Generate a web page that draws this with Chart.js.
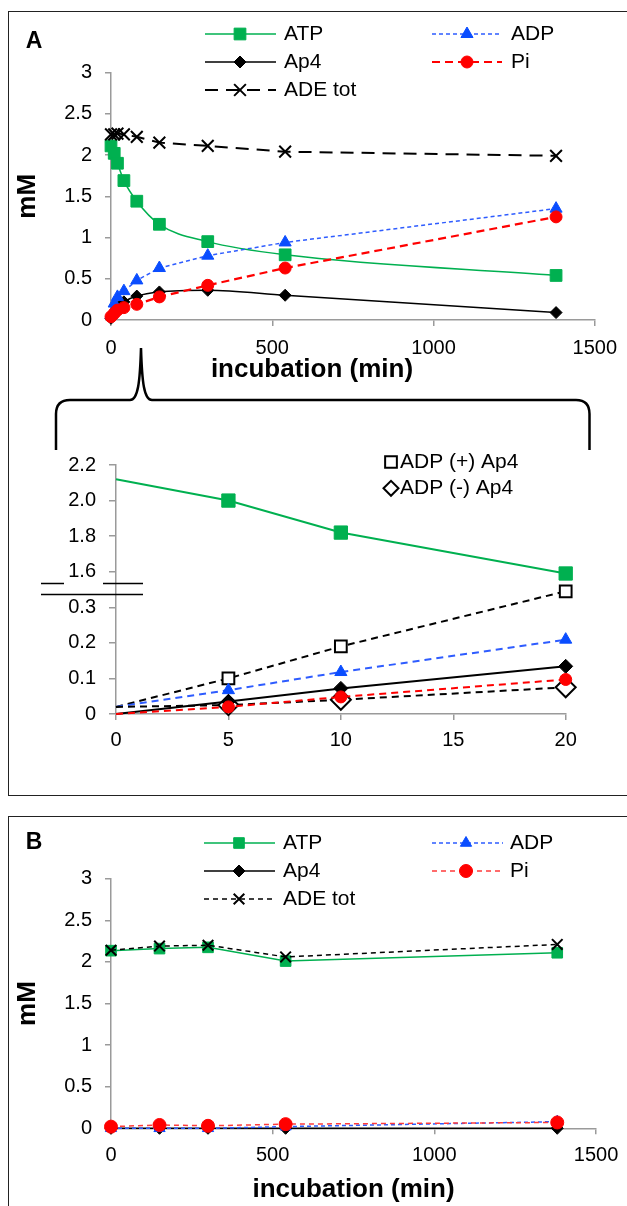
<!DOCTYPE html>
<html>
<head>
<meta charset="utf-8">
<script src="https://cdn.jsdelivr.net/npm/chart.js@4/dist/chart.umd.min.js"></script>
<style>
  html, body { margin: 0; padding: 0; background: #fff; }
  body { width: 627px; height: 1206px; position: relative; overflow: hidden; }
  .frame { position: absolute; box-sizing: border-box; border: 1.5px solid #222; border-right: none; }
  #frameA { left: 8px; top: 11px; width: 640px; height: 785px; }
  #frameB { left: 8px; top: 816px; width: 640px; height: 420px; }
  canvas { position: absolute; left: 0; }
  #chartA { top: 0; }
  #chartInset { top: 440px; }
  #chartB { top: 816px; }
  svg { position: absolute; left: 0; top: 0; }
</style>
</head>
<body>
<div class="frame" id="frameA"></div>
<div class="frame" id="frameB"></div>
<canvas id="chartA" width="627" height="400"></canvas>
<canvas id="chartInset" width="627" height="330"></canvas>
<canvas id="chartB" width="627" height="390"></canvas>
<svg width="627" height="1206">
  <path d="M56,450 L56,414 Q56,400 70,400 L130,400 C138,400 140,382 141,348 C142,382 144,400 152,400 L576,400 Q589.5,400 589.5,414 L589.5,450"
        fill="none" stroke="#000" stroke-width="2.5"/>
</svg>
<script>
const FONT = '"Liberation Sans", Arial, sans-serif';
const GREEN = '#00B050';
const BLUE = '#0A4DFF';
const BLUE_LINE = '#2E5CFF';
const RED = '#FF0000';

// panel A, 0-1500 min
const timesA = [0, 10, 20, 40, 80, 150, 300, 540, 1380];
const atpA = [2.11, 2.02, 1.90, 1.69, 1.44, 1.16, 0.95, 0.79, 0.54];
const adpA = [0.06, 0.20, 0.28, 0.35, 0.48, 0.63, 0.78, 0.94, 1.35];
const ap4A = [0.02, 0.08, 0.15, 0.22, 0.29, 0.34, 0.36, 0.30, 0.09];
const piA = [0.04, 0.08, 0.12, 0.15, 0.19, 0.28, 0.42, 0.63, 1.25];
const adeA = [2.25, 2.25, 2.26, 2.25, 2.22, 2.15, 2.11, 2.04, 1.99];

// panel A inset, 0-20 min
const insetTimes = [0, 5, 10, 20];
const insetAtp = [2.12, 2.00, 1.82, 1.59];
const insetAdpPlus = [0.02, 0.10, 0.19, 0.345];
const insetAdp = [0.02, 0.067, 0.118, 0.209];
const insetAp4 = [0.0, 0.035, 0.072, 0.134];
const insetPi = [0.0, 0.02, 0.048, 0.097];
const insetAdpMinus = [0.02, 0.025, 0.04, 0.075];
const insetTickLabels = ['0', '0.1', '0.2', '0.3', '1.6', '1.8', '2.0', '2.2'];

// panel B
const timesB = [0, 150, 300, 540, 1380];
const atpB = [2.135, 2.16, 2.175, 2.01, 2.11];
const adpB = [0.0, 0.0, 0.0, 0.02, 0.08];
const ap4B = [0.0, 0.0, 0.0, 0.0, 0.0];
const piB = [0.02, 0.04, 0.03, 0.05, 0.07];
const adeB = [2.14, 2.19, 2.20, 2.06, 2.21];

// broken inset axis: 0..0.3 below the break, 1.6..2.2 above it
function brokenY(v) {
    return v >= 1 ? 4 + (v - 1.6) / 0.2 : v / 0.1;
}

function series(label, xs, ys, st) {
    return {
        label: label,
        data: xs.map((x, i) => ({x: x, y: st.map ? st.map(ys[i]) : ys[i]})),
        borderColor: st.line || st.color,
        borderWidth: st.width,
        borderDash: st.dash || [],
        backgroundColor: st.fill || st.color,
        pointStyle: st.style,
        pointRadius: st.r,
        pointBackgroundColor: st.fill || st.color,
        pointBorderColor: st.edge || st.color,
        pointBorderWidth: st.bw || 1,
        tension: st.smooth ? 0.4 : 0,
        cubicInterpolationMode: st.smooth ? 'monotone' : 'default',
        order: st.order,
        clip: false,
        fill: false
    };
}

function tickFont(size) {
    return {family: FONT, size: size};
}

const plainNumber = (v) => String(v);

function legendPlugin(items, panelLabel) {
    return {
        id: 'sketchLegend',
        afterDraw(chart) {
            const ctx = chart.ctx;
            items.forEach((it) => {
                const ds = chart.data.datasets[it.i];
                ctx.save();
                if (it.x1 !== undefined) {
                    ctx.strokeStyle = ds.borderColor;
                    ctx.lineWidth = ds.borderWidth;
                    ctx.setLineDash(ds.borderDash);
                    ctx.beginPath();
                    ctx.moveTo(it.x1, it.y);
                    ctx.lineTo(it.x2, it.y);
                    ctx.stroke();
                }
                ctx.setLineDash([]);
                ctx.fillStyle = ds.pointBackgroundColor;
                ctx.strokeStyle = ds.pointBorderColor;
                ctx.lineWidth = ds.pointBorderWidth;
                let r = it.r;
                if (r === undefined) {
                    r = Array.isArray(ds.pointRadius) ? ds.pointRadius[ds.pointRadius.length - 1] : ds.pointRadius;
                }
                Chart.helpers.drawPoint(ctx, {pointStyle: ds.pointStyle, radius: r, rotation: 0, borderWidth: ds.pointBorderWidth}, it.mx, it.y);
                ctx.fillStyle = '#000';
                ctx.font = '21px ' + FONT;
                ctx.textBaseline = 'middle';
                ctx.textAlign = 'left';
                ctx.fillText(ds.label, it.tx, it.y);
                ctx.restore();
            });
            if (panelLabel) {
                ctx.save();
                ctx.fillStyle = '#000';
                ctx.font = 'bold 23px ' + FONT;
                ctx.textBaseline = 'middle';
                ctx.textAlign = 'center';
                ctx.fillText(panelLabel.text, panelLabel.x, panelLabel.y);
                ctx.restore();
            }
        }
    };
}

const axisBreak = {
    id: 'axisBreak',
    afterDraw(chart) {
        const y = chart.scales.y;
        const ctx = chart.ctx;
        const y1 = y.getPixelForValue(3.67);
        const y2 = y.getPixelForValue(3.36);
        ctx.save();
        ctx.strokeStyle = '#000';
        ctx.lineWidth = 1.5;
        ctx.beginPath();
        ctx.moveTo(41, y1); ctx.lineTo(64, y1);
        ctx.moveTo(103, y1); ctx.lineTo(143, y1);
        ctx.moveTo(41, y2); ctx.lineTo(143, y2);
        ctx.stroke();
        ctx.restore();
    }
};

const gridStyle = {drawOnChartArea: false, drawTicks: true, tickLength: 6, color: '#9a9a9a', lineWidth: 1.5};
const borderStyle = {display: true, color: '#9a9a9a', width: 1.5};
const boldTitle = {family: FONT, size: 26, weight: 'bold', lineHeight: 1.2};

// ---------- panel A ----------
new Chart(document.getElementById('chartA'), {
    type: 'line',
    data: {
        datasets: [
            series('ATP', timesA, atpA, {color: GREEN, style: 'rect', r: 8.3, width: 1.5, smooth: true, order: 5}),
            series('ADP', timesA, adpA, {color: BLUE, line: BLUE_LINE, style: 'triangle', r: 7, width: 1.5, dash: [4, 3], order: 3}),
            series('Ap4', timesA, ap4A, {color: '#000', style: 'rectRot', r: 6, width: 1.5, smooth: true, order: 4}),
            series('Pi', timesA, piA, {color: RED, style: 'circle', r: 6, width: 2.2, dash: [8, 5], order: 2}),
            series('ADE tot', timesA, adeA, {color: '#000', fill: '#000', style: 'crossRot', r: 8.3, bw: 2, width: 2, dash: [13, 8], order: 1})
        ]
    },
    options: {
        responsive: false,
        animation: false,
        events: [],
        layout: {padding: {left: 27, right: 30, top: 72.5, bottom: 0}},
        plugins: {
            legend: {display: false},
            tooltip: {enabled: false},
            title: {
                display: true, position: 'bottom', text: 'incubation (min)', color: '#000',
                font: boldTitle, padding: {top: -10.6, bottom: 14.4}
            }
        },
        scales: {
            x: {
                type: 'linear', min: 0, max: 1500,
                afterFit: (s) => { s.height = 45; },
                ticks: {stepSize: 500, color: '#000', font: tickFont(20), padding: 10, maxRotation: 0, callback: plainNumber},
                grid: gridStyle, border: borderStyle
            },
            y: {
                min: 0, max: 3,
                afterFit: (s) => { s.width = 84; },
                ticks: {stepSize: 0.5, color: '#000', font: tickFont(20), padding: 13, callback: plainNumber},
                grid: gridStyle, border: borderStyle,
                title: {display: true, text: 'mM', color: '#000', font: boldTitle, padding: {top: -14.6}}
            }
        }
    },
    plugins: [legendPlugin([
        {i: 0, x1: 205, x2: 276, mx: 240, y: 34, tx: 284},
        {i: 1, x1: 432, x2: 502, mx: 467, y: 34, tx: 511},
        {i: 2, x1: 205, x2: 276, mx: 240, y: 62, tx: 284},
        {i: 3, x1: 432, x2: 502, mx: 467, y: 62, tx: 511},
        {i: 4, x1: 205, x2: 276, mx: 240, y: 90, tx: 284}
    ], {text: 'A', x: 34, y: 42})]
});

// ---------- panel A inset ----------
const hideFirst = (r) => [0, r, r, r];

new Chart(document.getElementById('chartInset'), {
    type: 'line',
    data: {
        datasets: [
            series('ATP', insetTimes, insetAtp, {color: GREEN, style: 'rect', r: hideFirst(9.4), width: 2, map: brokenY, order: 6}),
            series('ADP (+) Ap4', insetTimes, insetAdpPlus, {color: '#000', fill: '#fff', edge: '#000', bw: 2, style: 'rect', r: hideFirst(8.3), width: 2, dash: [7, 5], map: brokenY, order: 5}),
            series('ADP', insetTimes, insetAdp, {color: BLUE, line: BLUE_LINE, style: 'triangle', r: hideFirst(7), width: 2, dash: [7, 5], map: brokenY, order: 4}),
            series('Ap4', insetTimes, insetAp4, {color: '#000', style: 'rectRot', r: hideFirst(7), width: 2, map: brokenY, order: 2}),
            series('Pi', insetTimes, insetPi, {color: RED, style: 'circle', r: hideFirst(6), width: 2, dash: [7, 5], map: brokenY, order: 1}),
            series('ADP (-) Ap4', insetTimes, insetAdpMinus, {color: '#000', fill: '#fff', edge: '#000', bw: 2, style: 'rectRot', r: hideFirst(10), width: 2, dash: [7, 5], map: brokenY, order: 3})
        ]
    },
    options: {
        responsive: false,
        animation: false,
        events: [],
        layout: {padding: {left: 0, right: 61.3, top: 24.3, bottom: 16}},
        plugins: {legend: {display: false}, tooltip: {enabled: false}},
        scales: {
            x: {
                type: 'linear', min: 0, max: 20,
                afterFit: (s) => { s.height = 40; },
                ticks: {stepSize: 5, color: '#000', font: tickFont(20), padding: 8, maxRotation: 0},
                grid: gridStyle, border: borderStyle
            },
            y: {
                min: 0, max: 7,
                afterFit: (s) => { s.width = 116; },
                ticks: {stepSize: 1, color: '#000', font: tickFont(20), padding: 13,
                    callback: (v) => insetTickLabels[Math.round(v)]},
                grid: Object.assign({}, gridStyle, {tickLength: 7}), border: borderStyle
            }
        }
    },
    plugins: [axisBreak, legendPlugin([
        {i: 1, mx: 391, y: 22, tx: 400},
        {i: 5, mx: 391, y: 48.3, tx: 400, r: 7.5}
    ])]
});

// ---------- panel B ----------
new Chart(document.getElementById('chartB'), {
    type: 'line',
    data: {
        datasets: [
            series('ATP', timesB, atpB, {color: GREEN, style: 'rect', r: 7.5, width: 1.5, order: 5}),
            series('ADP', timesB, adpB, {color: BLUE, line: BLUE_LINE, style: 'triangle', r: 6.5, width: 1.5, dash: [4, 3], order: 3}),
            series('Ap4', timesB, ap4B, {color: '#000', style: 'rectRot', r: 6, width: 1.5, order: 4}),
            series('Pi', timesB, piB, {color: RED, line: '#FF3B3B', style: 'circle', r: 6.5, width: 1.5, dash: [5, 4], order: 2}),
            series('ADE tot', timesB, adeB, {color: '#000', fill: '#000', style: 'crossRot', r: 7.5, bw: 2, width: 1.5, dash: [5, 4], order: 1})
        ]
    },
    options: {
        responsive: false,
        animation: false,
        events: [],
        layout: {padding: {left: 0, right: 30, top: 62.7, bottom: 0}},
        plugins: {legend: {display: false}, tooltip: {enabled: false}},
        scales: {
            x: {
                type: 'linear', min: 0, max: 1500,
                afterFit: (s) => { s.height = 77.7; },
                ticks: {stepSize: 500, color: '#000', font: tickFont(20), padding: 8.7, maxRotation: 0, callback: plainNumber},
                grid: gridStyle, border: borderStyle,
                title: {display: true, text: 'incubation (min)', color: '#000', font: boldTitle, padding: {bottom: 0.4}}
            },
            y: {
                min: 0, max: 3,
                afterFit: (s) => { s.width = 111; },
                ticks: {stepSize: 0.5, color: '#000', font: tickFont(20), padding: 13, callback: plainNumber},
                grid: gridStyle, border: borderStyle,
                title: {display: true, text: 'mM', color: '#000', font: boldTitle, padding: {top: 12.4}}
            }
        }
    },
    plugins: [legendPlugin([
        {i: 0, x1: 204, x2: 275, mx: 239, y: 27, tx: 283},
        {i: 1, x1: 432, x2: 503, mx: 466, y: 27, tx: 510},
        {i: 2, x1: 204, x2: 275, mx: 239, y: 55, tx: 283},
        {i: 3, x1: 432, x2: 503, mx: 466, y: 55, tx: 510},
        {i: 4, x1: 204, x2: 275, mx: 239, y: 83, tx: 283}
    ], {text: 'B', x: 34, y: 27})]
});
</script>
</body>
</html>
